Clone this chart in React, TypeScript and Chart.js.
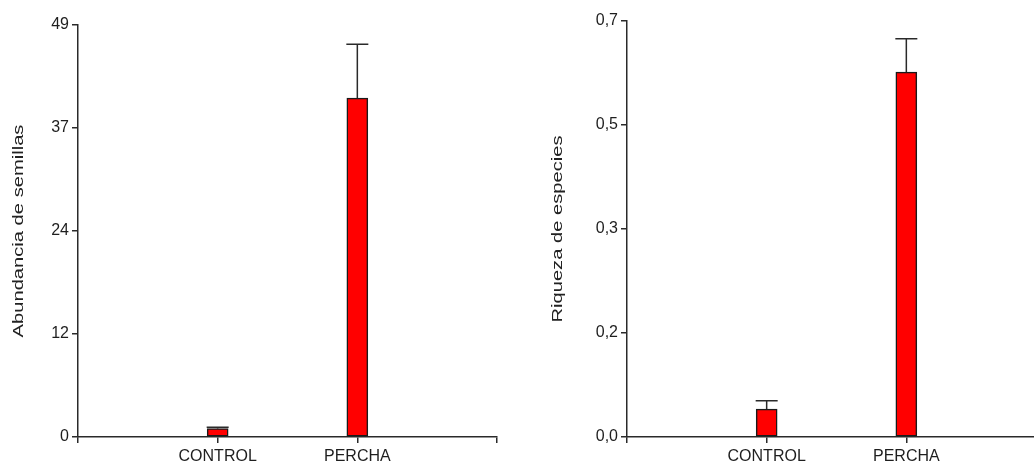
import React, { useEffect, useRef } from "react";
import { Chart, registerables } from "chart.js";

Chart.register(...registerables);

const categories = ["CONTROL", "PERCHA"];

const abundanceMeans = [1.0, 40.3];
const abundanceErrors = [0.15, 6.4];
const abundanceTickLabels = ["0", "12", "24", "37", "49"];
const abundanceMax = 49;

const richnessMeans = [0.047, 0.614];
const richnessErrors = [0.014, 0.056];
const richnessTickLabels = ["0,0", "0,2", "0,3", "0,5", "0,7"];
const richnessMax = 0.7;

const FONT = "'Liberation Sans', Arial, sans-serif";
const AXIS = "#2a2a2a";

type PanelProps = {
  left: number;
  means: number[];
  errors: number[];
  tickLabels: string[];
  max: number;
  title: string;
  titleX: number;
  top: number;
};

function Panel(props: PanelProps) {
  const ref = useRef<HTMLCanvasElement | null>(null);
  useEffect(() => {
    const canvas = ref.current;
    if (!canvas) return;
    const labels = ["", ...categories, ""];
    const data = [null, ...props.means, null];
    const errs = [null, ...props.errors, null];

    const errorBars = {
      id: "errorBars",
      afterDatasetsDraw(chart: any) {
        const ctx = chart.ctx;
        const xs = chart.scales.x;
        const ys = chart.scales.y;
        ctx.save();
        ctx.strokeStyle = AXIS;
        ctx.lineWidth = 1.5;
        for (let i = 0; i < data.length; i++) {
          const v = data[i];
          const e = errs[i];
          if (v == null || e == null) continue;
          const x = xs.getPixelForValue(i);
          const y0 = ys.getPixelForValue(v);
          const y1 = ys.getPixelForValue(v + e);
          ctx.beginPath();
          ctx.moveTo(x, y0);
          ctx.lineTo(x, y1);
          ctx.moveTo(x - 11, y1);
          ctx.lineTo(x + 11, y1);
          ctx.stroke();
        }
        ctx.restore();
      },
    };

    const titlePlugin = {
      id: "stretchTitle",
      afterDraw(chart: any) {
        const ctx = chart.ctx;
        const a = chart.chartArea;
        ctx.save();
        ctx.translate(props.titleX, (a.top + a.bottom) / 2);
        ctx.rotate(-Math.PI / 2);
        ctx.scale(1.3, 1);
        ctx.font = `15.5px ${FONT}`;
        ctx.fillStyle = "#222";
        ctx.textAlign = "center";
        ctx.textBaseline = "middle";
        ctx.fillText(props.title, 0, 0);
        ctx.restore();
      },
    };

    const chart = new Chart(canvas, {
      type: "bar",
      data: {
        labels,
        datasets: [
          {
            data: data as any,
            backgroundColor: "#ff0000",
            borderColor: "#1a1a1a",
            borderWidth: 1.5,
            barThickness: 21,
            borderSkipped: false,
          },
        ],
      },
      options: {
        responsive: false,
        animation: false,
        devicePixelRatio: 1,
        layout: { padding: { left: 0, right: 23, top: props.top, bottom: 0 } },
        plugins: { legend: { display: false }, tooltip: { enabled: false } },
        scales: {
          x: {
            type: "category",
            offset: false,
            grid: {
              offset: false,
              drawOnChartArea: false,
              drawTicks: true,
              tickLength: 6,
              color: AXIS,
              lineWidth: 1.5,
            },
            border: { color: AXIS, width: 1.5 },
            ticks: {
              color: "#1e1e1e",
              font: { family: FONT, size: 16 },
              padding: 4,
              maxRotation: 0,
              autoSkip: false,
            },
            afterFit(scale: any) {
              scale.height = 26;
            },
          },
          y: {
            min: 0,
            max: props.max,
            ticks: {
              stepSize: props.max / 4,
              color: "#1e1e1e",
              font: { family: FONT, size: 16 },
              padding: 3,
              callback: (_v: any, i: number) => props.tickLabels[i],
            },
            grid: {
              drawOnChartArea: false,
              drawTicks: true,
              tickLength: 6,
              color: AXIS,
              lineWidth: 1.5,
            },
            border: { color: AXIS, width: 1.5 },
            afterFit(scale: any) {
              scale.width = 78;
            },
          },
        },
      },
      plugins: [errorBars, titlePlugin],
    });
    return () => chart.destroy();
  }, []);
  return (
    <div style={{ position: "absolute", left: props.left, top: 0, width: 520, height: 463 }}>
      <canvas ref={ref} width={520} height={463} style={{ width: 520, height: 463, display: "block" }} />
    </div>
  );
}

export default function App() {
  return (
    <div
      style={{
        position: "fixed",
        left: 0,
        top: 0,
        width: 1034,
        height: 463,
        overflow: "hidden",
        background: "#fff",
      }}
    >
      <Panel
        left={0}
        means={abundanceMeans}
        errors={abundanceErrors}
        tickLabels={abundanceTickLabels}
        max={abundanceMax}
        title="Abundancia de semillas"
        titleX={19}
        top={25}
      />
      <Panel
        left={549}
        means={richnessMeans}
        errors={richnessErrors}
        tickLabels={richnessTickLabels}
        max={richnessMax}
        title="Riqueza de especies"
        titleX={9}
        top={21}
      />
    </div>
  );
}
